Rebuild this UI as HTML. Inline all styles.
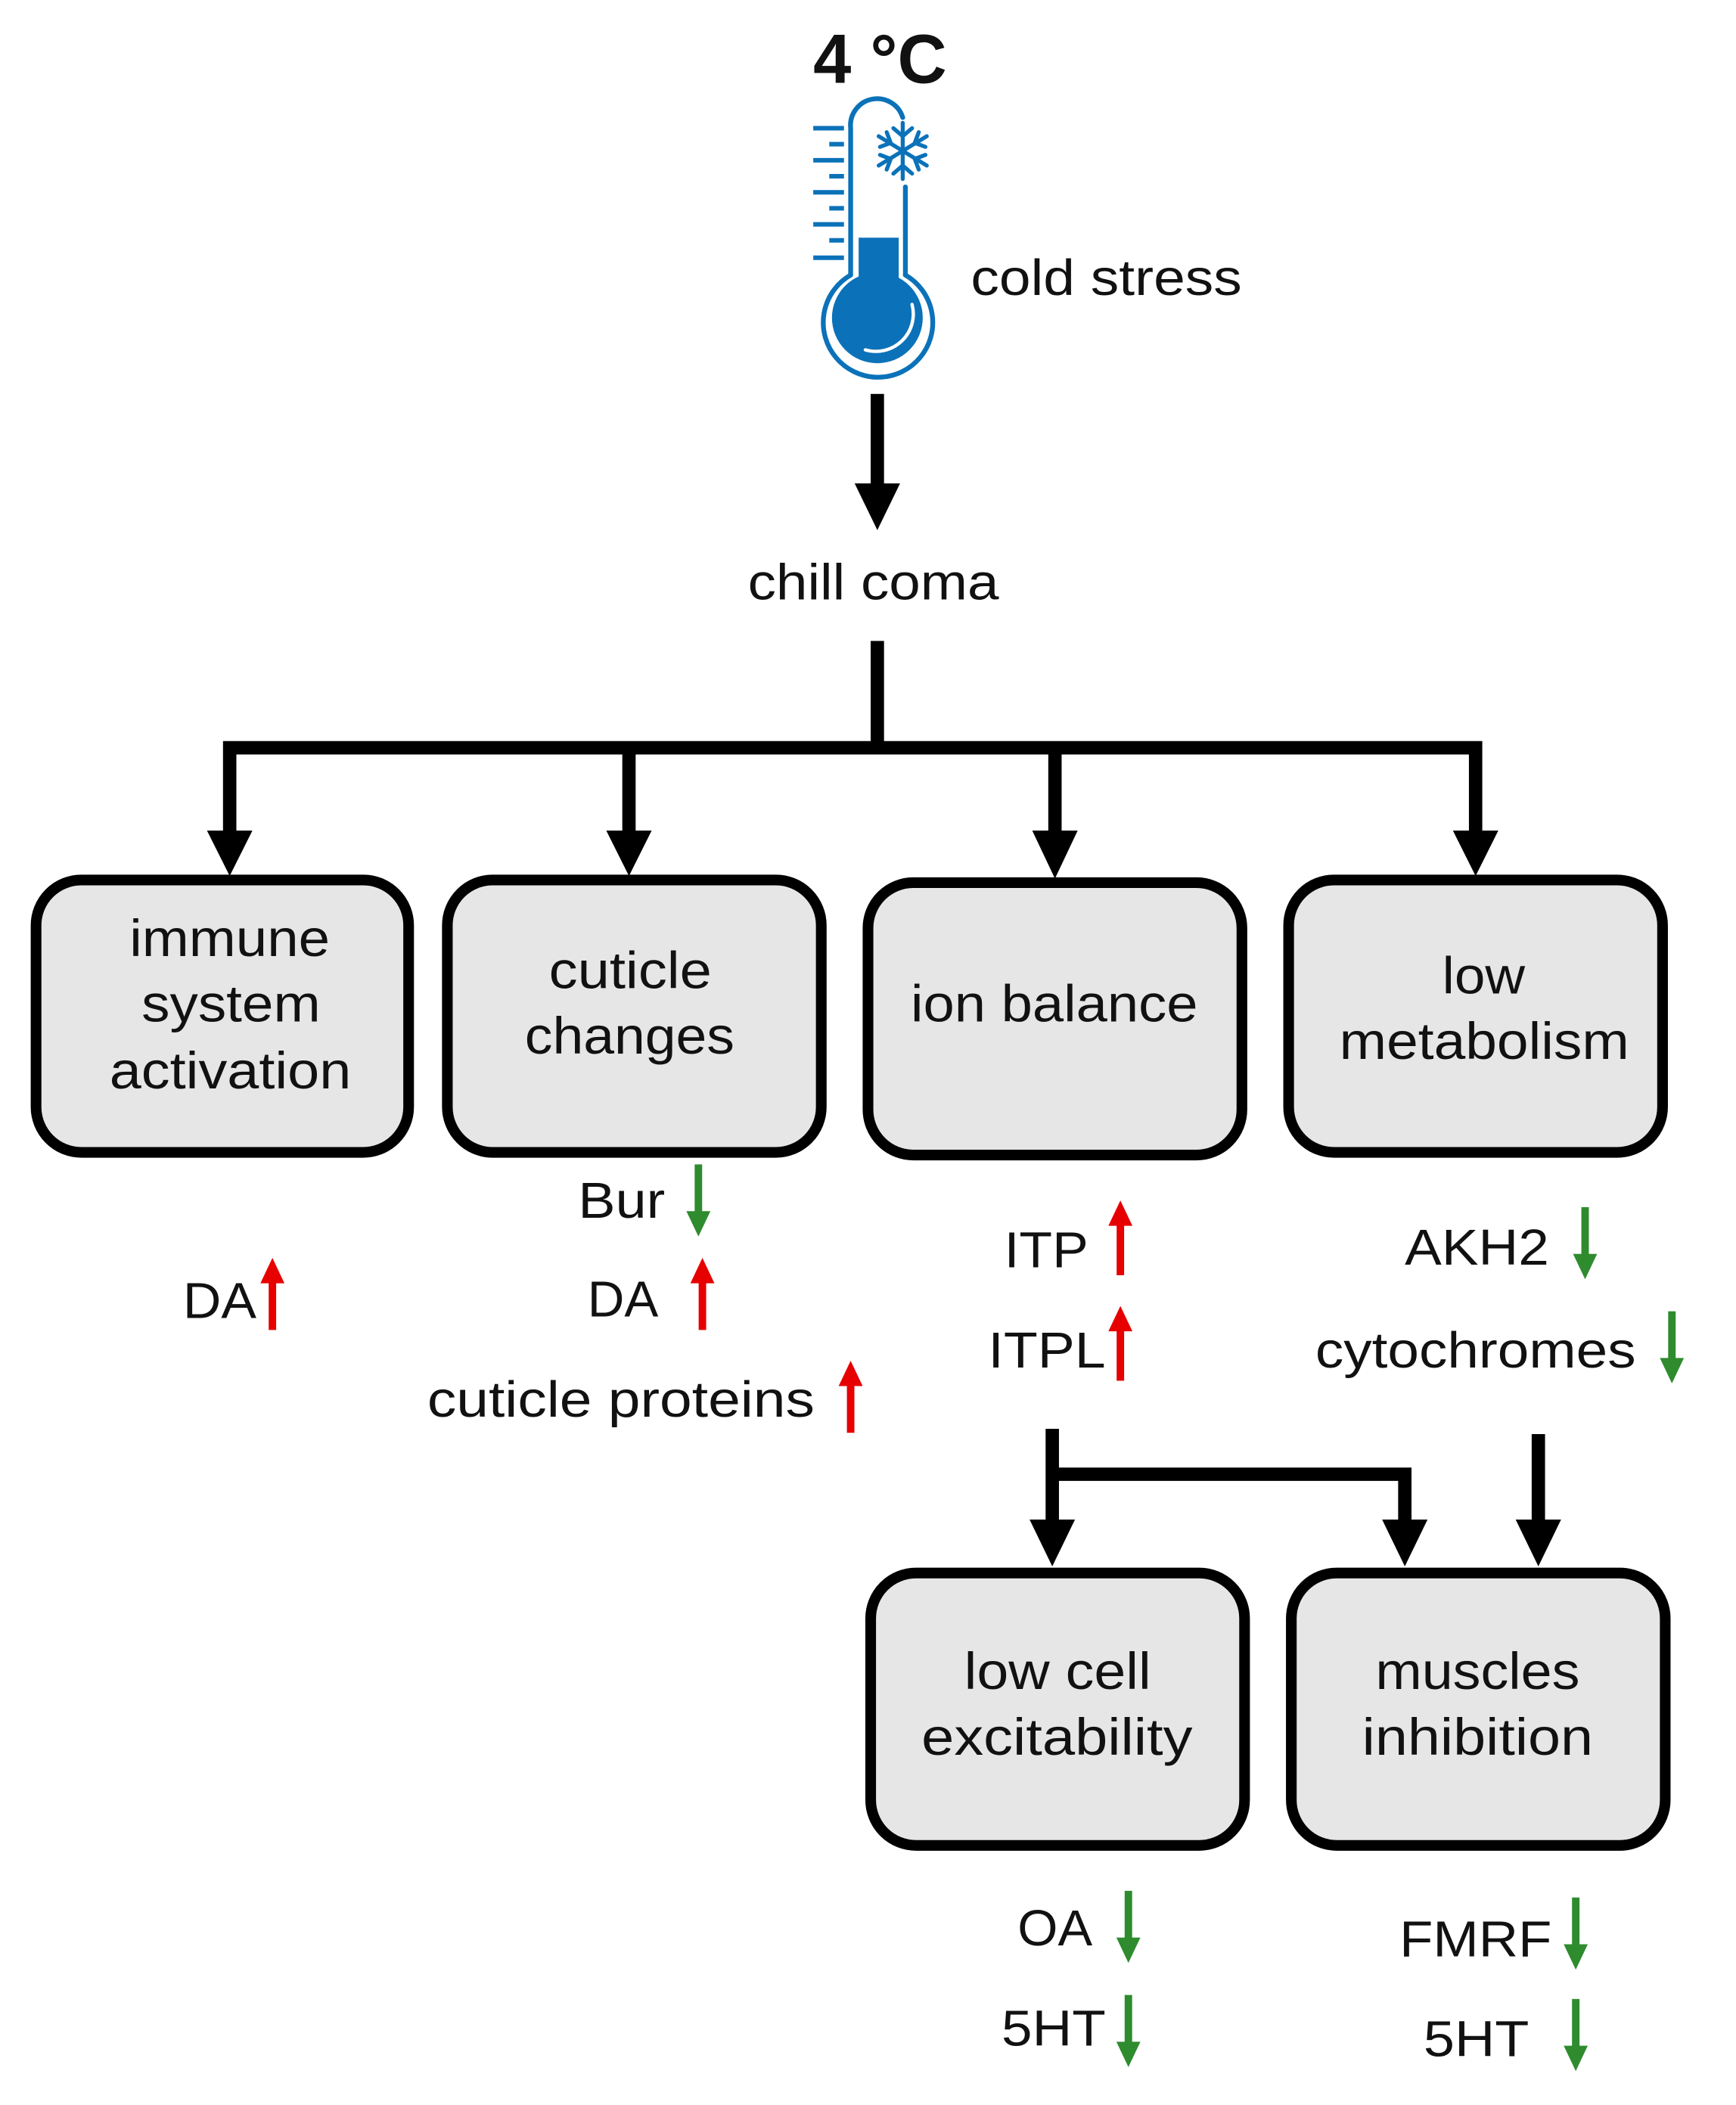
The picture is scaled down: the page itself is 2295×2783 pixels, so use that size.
<!DOCTYPE html>
<html><head><meta charset="utf-8"><style>
html,body{margin:0;padding:0;background:#fff;}
svg{display:block;}
text{font-family:"Liberation Sans",sans-serif;fill:#111;}
</style></head><body>
<svg width="2295" height="2783" viewBox="0 0 1300 1576.4" preserveAspectRatio="none" xmlns="http://www.w3.org/2000/svg">
<!-- title -->
<text x="609" y="62" font-size="52" font-weight="bold" textLength="100" lengthAdjust="spacingAndGlyphs">4 °C</text>
<!-- thermometer -->
<g stroke="#0b72b9" stroke-width="3.6" fill="none" stroke-linecap="round">
<path d="M637 206 L637 96 A20 20 0 0 1 676 88"/>
<path d="M678 140 L678 206"/>
<path d="M637 206 A41 41 0 1 0 678 206"/>
<g stroke-width="3.4" stroke-linecap="butt">
<line x1="609" y1="96" x2="632" y2="96"/><line x1="621" y1="108" x2="632" y2="108"/>
<line x1="609" y1="120" x2="632" y2="120"/><line x1="621" y1="132" x2="632" y2="132"/>
<line x1="609" y1="144" x2="632" y2="144"/><line x1="621" y1="156" x2="632" y2="156"/>
<line x1="609" y1="168" x2="632" y2="168"/><line x1="621" y1="180" x2="632" y2="180"/>
<line x1="609" y1="193" x2="632" y2="193"/>
</g>
<g stroke-width="3">
<line x1="676" y1="92" x2="676" y2="134"/>
<line x1="658" y1="102" x2="694" y2="124"/>
<line x1="658" y1="124" x2="694" y2="102"/>
<path d="M669 96 L676 102 L683 96 M669 130 L676 124 L683 130"/>
<path d="M659 110 L667 107 L664 99 M693 116 L685 119 L688 127"/>
<path d="M659 116 L667 119 L664 127 M693 110 L685 107 L688 99"/>
</g>
</g>
<rect x="643" y="178" width="30" height="40" fill="#0b72b9"/>
<circle cx="657" cy="238" r="34" fill="#0b72b9"/>
<path d="M683 228 A28 28 0 0 1 648 262" stroke="#fff" stroke-width="2.5" fill="none" stroke-linecap="round"/>
<text x="727" y="221" font-size="38" textLength="203" lengthAdjust="spacingAndGlyphs">cold stress</text>

<g fill="#000" stroke="none">
<rect x="652" y="295" width="10" height="70"/>
<polygon points="640,362 674,362 657,397"/>
</g>
<text x="560" y="449" font-size="38" textLength="188" lengthAdjust="spacingAndGlyphs">chill coma</text>
<g stroke="#000" stroke-width="10" fill="none">
<line x1="657" y1="480" x2="657" y2="560"/>
<polyline points="172,625 172,560 1105,560 1105,625"/>
<line x1="471" y1="560" x2="471" y2="625"/>
<line x1="790" y1="560" x2="790" y2="625"/>
</g>
<g fill="#000">
<polygon points="155,622 189,622 172,656"/>
<polygon points="454,622 488,622 471,656"/>
<polygon points="773,622 807,622 790,658"/>
<polygon points="1088,622 1122,622 1105,656"/>
</g>
<g fill="#e6e6e6" stroke="#000" stroke-width="8">
<rect x="27" y="659" width="279" height="204" rx="34"/>
<rect x="335" y="659" width="280" height="204" rx="34"/>
<rect x="650" y="661" width="280" height="204" rx="34"/>
<rect x="965" y="659" width="280" height="204" rx="34"/>
<rect x="652" y="1178" width="280" height="204" rx="34"/>
<rect x="967" y="1178" width="280" height="204" rx="34"/>
</g>
<g font-size="39" lengthAdjust="spacingAndGlyphs">
<text x="97" y="716" textLength="150" lengthAdjust="spacingAndGlyphs">immune</text>
<text x="106" y="765" textLength="134" lengthAdjust="spacingAndGlyphs">system</text>
<text x="82" y="815" textLength="181" lengthAdjust="spacingAndGlyphs">activation</text>
<text x="411" y="740" textLength="122" lengthAdjust="spacingAndGlyphs">cuticle</text>
<text x="393" y="789" textLength="157" lengthAdjust="spacingAndGlyphs">changes</text>
<text x="682" y="765" textLength="215" lengthAdjust="spacingAndGlyphs">ion balance</text>
<text x="1080" y="744" textLength="62" lengthAdjust="spacingAndGlyphs">low</text>
<text x="1003" y="793" textLength="217" lengthAdjust="spacingAndGlyphs">metabolism</text>
<text x="722" y="1265" textLength="140" lengthAdjust="spacingAndGlyphs">low cell</text>
<text x="690" y="1314" textLength="203" lengthAdjust="spacingAndGlyphs">excitability</text>
<text x="1030" y="1265" textLength="153" lengthAdjust="spacingAndGlyphs">muscles</text>
<text x="1020" y="1314" textLength="173" lengthAdjust="spacingAndGlyphs">inhibition</text>
</g>
<g stroke="#000" stroke-width="10" fill="none">
<polyline points="788,1070 788,1140"/>
<polyline points="788,1104 1052,1104 1052,1140"/>
<line x1="1152" y1="1074" x2="1152" y2="1140"/>
</g>
<g fill="#000">
<polygon points="771,1138 805,1138 788,1173"/>
<polygon points="1035,1138 1069,1138 1052,1173"/>
<polygon points="1135,1138 1169,1138 1152,1173"/>
</g>
<g font-size="38">
<text x="433" y="912" textLength="65" lengthAdjust="spacingAndGlyphs">Bur</text>
<text x="137" y="987" textLength="55" lengthAdjust="spacingAndGlyphs">DA</text>
<text x="440" y="986" textLength="53" lengthAdjust="spacingAndGlyphs">DA</text>
<text x="320" y="1061" textLength="290" lengthAdjust="spacingAndGlyphs">cuticle proteins</text>
<text x="752" y="949" textLength="63" lengthAdjust="spacingAndGlyphs">ITP</text>
<text x="740" y="1024" textLength="88" lengthAdjust="spacingAndGlyphs">ITPL</text>
<text x="1052" y="947" textLength="108" lengthAdjust="spacingAndGlyphs">AKH2</text>
<text x="985" y="1024" textLength="240" lengthAdjust="spacingAndGlyphs">cytochromes</text>
<text x="762" y="1457" textLength="56" lengthAdjust="spacingAndGlyphs">OA</text>
<text x="750" y="1532" textLength="78" lengthAdjust="spacingAndGlyphs">5HT</text>
<text x="1048" y="1465" textLength="114" lengthAdjust="spacingAndGlyphs">FMRF</text>
<text x="1066" y="1540" textLength="79" lengthAdjust="spacingAndGlyphs">5HT</text>
</g>
<g fill="#e60000">
<g transform="translate(204,942)"><rect x="-2.8" y="16" width="5.6" height="38"/><polygon points="-9,19 9,19 0,0"/></g>
<g transform="translate(526,942)"><rect x="-2.8" y="16" width="5.6" height="38"/><polygon points="-9,19 9,19 0,0"/></g>
<g transform="translate(637,1019)"><rect x="-2.8" y="16" width="5.6" height="38"/><polygon points="-9,19 9,19 0,0"/></g>
<g transform="translate(839,899)"><rect x="-2.8" y="16" width="5.6" height="40"/><polygon points="-9,19 9,19 0,0"/></g>
<g transform="translate(839,978)"><rect x="-2.8" y="16" width="5.6" height="40"/><polygon points="-9,19 9,19 0,0"/></g>
</g>
<g fill="#2e8b2e">
<g transform="translate(523,926)"><rect x="-2.8" y="-54" width="5.6" height="38"/><polygon points="-9,-19 9,-19 0,0"/></g>
<g transform="translate(1187,958)"><rect x="-2.8" y="-54" width="5.6" height="38"/><polygon points="-9,-19 9,-19 0,0"/></g>
<g transform="translate(1252,1036)"><rect x="-2.8" y="-54" width="5.6" height="38"/><polygon points="-9,-19 9,-19 0,0"/></g>
<g transform="translate(845,1470)"><rect x="-2.8" y="-54" width="5.6" height="38"/><polygon points="-9,-19 9,-19 0,0"/></g>
<g transform="translate(845,1548)"><rect x="-2.8" y="-54" width="5.6" height="38"/><polygon points="-9,-19 9,-19 0,0"/></g>
<g transform="translate(1180,1475)"><rect x="-2.8" y="-54" width="5.6" height="38"/><polygon points="-9,-19 9,-19 0,0"/></g>
<g transform="translate(1180,1551)"><rect x="-2.8" y="-54" width="5.6" height="38"/><polygon points="-9,-19 9,-19 0,0"/></g>
</g>
</svg>
</body></html>
